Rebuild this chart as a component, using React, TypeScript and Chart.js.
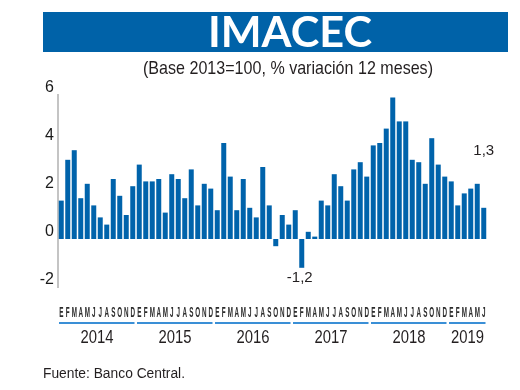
import React, { useEffect, useRef } from "react";
import { Chart, registerables } from "chart.js";
Chart.register(...registerables);

const title = "IMACEC";
const subtitle = "(Base 2013=100, % variación 12 meses)";
const source = "Fuente: Banco Central.";
const monthLetters = ["E", "F", "M", "A", "M", "J", "J", "A", "S", "O", "N", "D"];
const years = ["2014", "2015", "2016", "2017", "2018", "2019"];
const monthsPerYear = [12, 12, 12, 12, 12, 6];
const v2014 = [1.6, 3.3, 3.7, 1.7, 2.3, 1.4, 0.9, 0.6, 2.5, 1.8, 1.0, 2.2];
const v2015 = [3.1, 2.4, 2.4, 2.5, 1.1, 2.7, 2.5, 1.7, 2.9, 1.4, 2.3, 2.1];
const v2016 = [1.2, 4.0, 2.6, 1.2, 2.5, 1.3, 0.9, 3.0, 1.4, -0.3, 1.0, 0.6];
const v2017 = [1.2, -1.2, 0.3, 0.1, 1.6, 1.4, 2.7, 2.2, 1.6, 2.9, 3.2, 2.6];
const v2018 = [3.9, 4.0, 4.6, 5.9, 4.9, 4.9, 3.3, 3.2, 2.3, 4.2, 3.1, 2.6];
const v2019 = [2.4, 1.4, 1.9, 2.1, 2.3, 1.3];
const values = [...v2014, ...v2015, ...v2016, ...v2017, ...v2018, ...v2019];
const labels = years.flatMap((y, i) => monthLetters.slice(0, monthsPerYear[i]).map((m) => `${m} ${y}`));
const yTicks = [-2, 0, 2, 4, 6];
const callouts = [
  { index: 37, text: "-1,2", dx: -2, dy: 10 },
  { index: 65, text: "1,3", dx: 0, dy: -57 },
];

const TEXT = "#231f20";
const BLUE = "#0062a8";

function fitText(ctx: CanvasRenderingContext2D, text: string, x: number, y: number, width: number, align: "left" | "center") {
  const w = ctx.measureText(text).width;
  const s = width / w;
  ctx.save();
  ctx.translate(x, y);
  ctx.scale(s, 1);
  ctx.textAlign = align;
  ctx.fillText(text, 0, 0);
  ctx.restore();
}

const decor = {
  id: "decor",
  afterDraw(chart: any) {
    const ctx: CanvasRenderingContext2D = chart.ctx;
    const x = chart.scales.x;
    const y = chart.scales.y;
    ctx.save();
    // banner
    ctx.fillStyle = BLUE;
    ctx.fillRect(43, 12, 465, 40);
    ctx.fillStyle = "#ffffff";
    ctx.textBaseline = "alphabetic";
    ctx.font = "bold 42px Lato, 'Liberation Sans', sans-serif";
    fitText(ctx, title, 290, 47, 164, "center");
    ctx.fillStyle = TEXT;
    ctx.font = "19px 'Liberation Sans', sans-serif";
    fitText(ctx, subtitle, 288, 74, 290, "center");
    ctx.font = "14px 'Liberation Sans', sans-serif";
    fitText(ctx, source, 43, 378, 142, "left");

    // month letters
    const cw = x.getPixelForValue(1) - x.getPixelForValue(0);
    ctx.fillStyle = "#2b2b2b";
    ctx.font = "bold 15px 'Liberation Sans', sans-serif";
    ctx.textBaseline = "middle";
    labels.forEach((lab, i) => {
      const px = x.getPixelForValue(i);
      ctx.save();
      ctx.translate(px, 313);
      ctx.scale(0.42, 1);
      ctx.textAlign = "center";
      ctx.fillText(lab.split(" ")[0], 0, 0);
      ctx.restore();
    });

    // year lines and labels
    let start = 0;
    years.forEach((yr, i) => {
      const n = monthsPerYear[i];
      const left = x.getPixelForValue(start) - cw / 2 + 1;
      const right = x.getPixelForValue(start + n - 1) + cw / 2 - 1.5;
      ctx.fillStyle = "#3a8fd6";
      ctx.fillRect(left, 322, right - left, 2);
      ctx.fillStyle = TEXT;
      ctx.font = "18px 'Liberation Sans', sans-serif";
      ctx.textBaseline = "middle";
      const cx = (x.getPixelForValue(start) + x.getPixelForValue(start + n - 1)) / 2;
      fitText(ctx, yr, cx, 338, 33, "center");
      start += n;
    });

    // callouts
    ctx.fillStyle = TEXT;
    ctx.font = "15px 'Liberation Sans', sans-serif";
    ctx.textBaseline = "middle";
    ctx.textAlign = "center";
    callouts.forEach((c) => {
      const px = x.getPixelForValue(c.index) + c.dx;
      const py = y.getPixelForValue(values[c.index]) + c.dy;
      ctx.fillText(c.text, px, py);
    });
    ctx.restore();
  },
};

export default function App() {
  const ref = useRef<HTMLCanvasElement>(null);
  useEffect(() => {
    if (!ref.current) return;
    const chart = new Chart(ref.current, {
      type: "bar",
      data: {
        labels,
        datasets: [
          {
            data: values,
            backgroundColor: "#0063ab",
            borderWidth: 0,
            categoryPercentage: 1,
            barPercentage: 0.77,
          },
        ],
      },
      options: {
        responsive: false,
        animation: false,
        layout: { padding: { left: 0, top: 95, right: 33, bottom: 103 } },
        plugins: { legend: { display: false }, tooltip: { enabled: false } },
        scales: {
          x: { display: false },
          y: {
            min: -2,
            max: 6,
            afterFit: (s: any) => {
              s.width = 58;
            },
            afterBuildTicks: (s: any) => {
              s.ticks = yTicks.map((v) => ({ value: v }));
            },
            grid: { display: false, drawTicks: false },
            border: { display: true, color: "#c4c4c4", width: 2 },
            ticks: {
              padding: 4,
              labelOffset: -7,
              color: "#1a1a1a",
              font: { family: "'Liberation Sans', sans-serif", size: 16 },
              callback: (v: any) => String(v),
            },
          },
        },
      },
      plugins: [decor],
    });
    return () => chart.destroy();
  }, []);
  return (
    <div style={{ position: "absolute", left: 0, top: 0, width: 520, height: 390, background: "#fff" }}>
      <canvas ref={ref} width={520} height={390} />
    </div>
  );
}
